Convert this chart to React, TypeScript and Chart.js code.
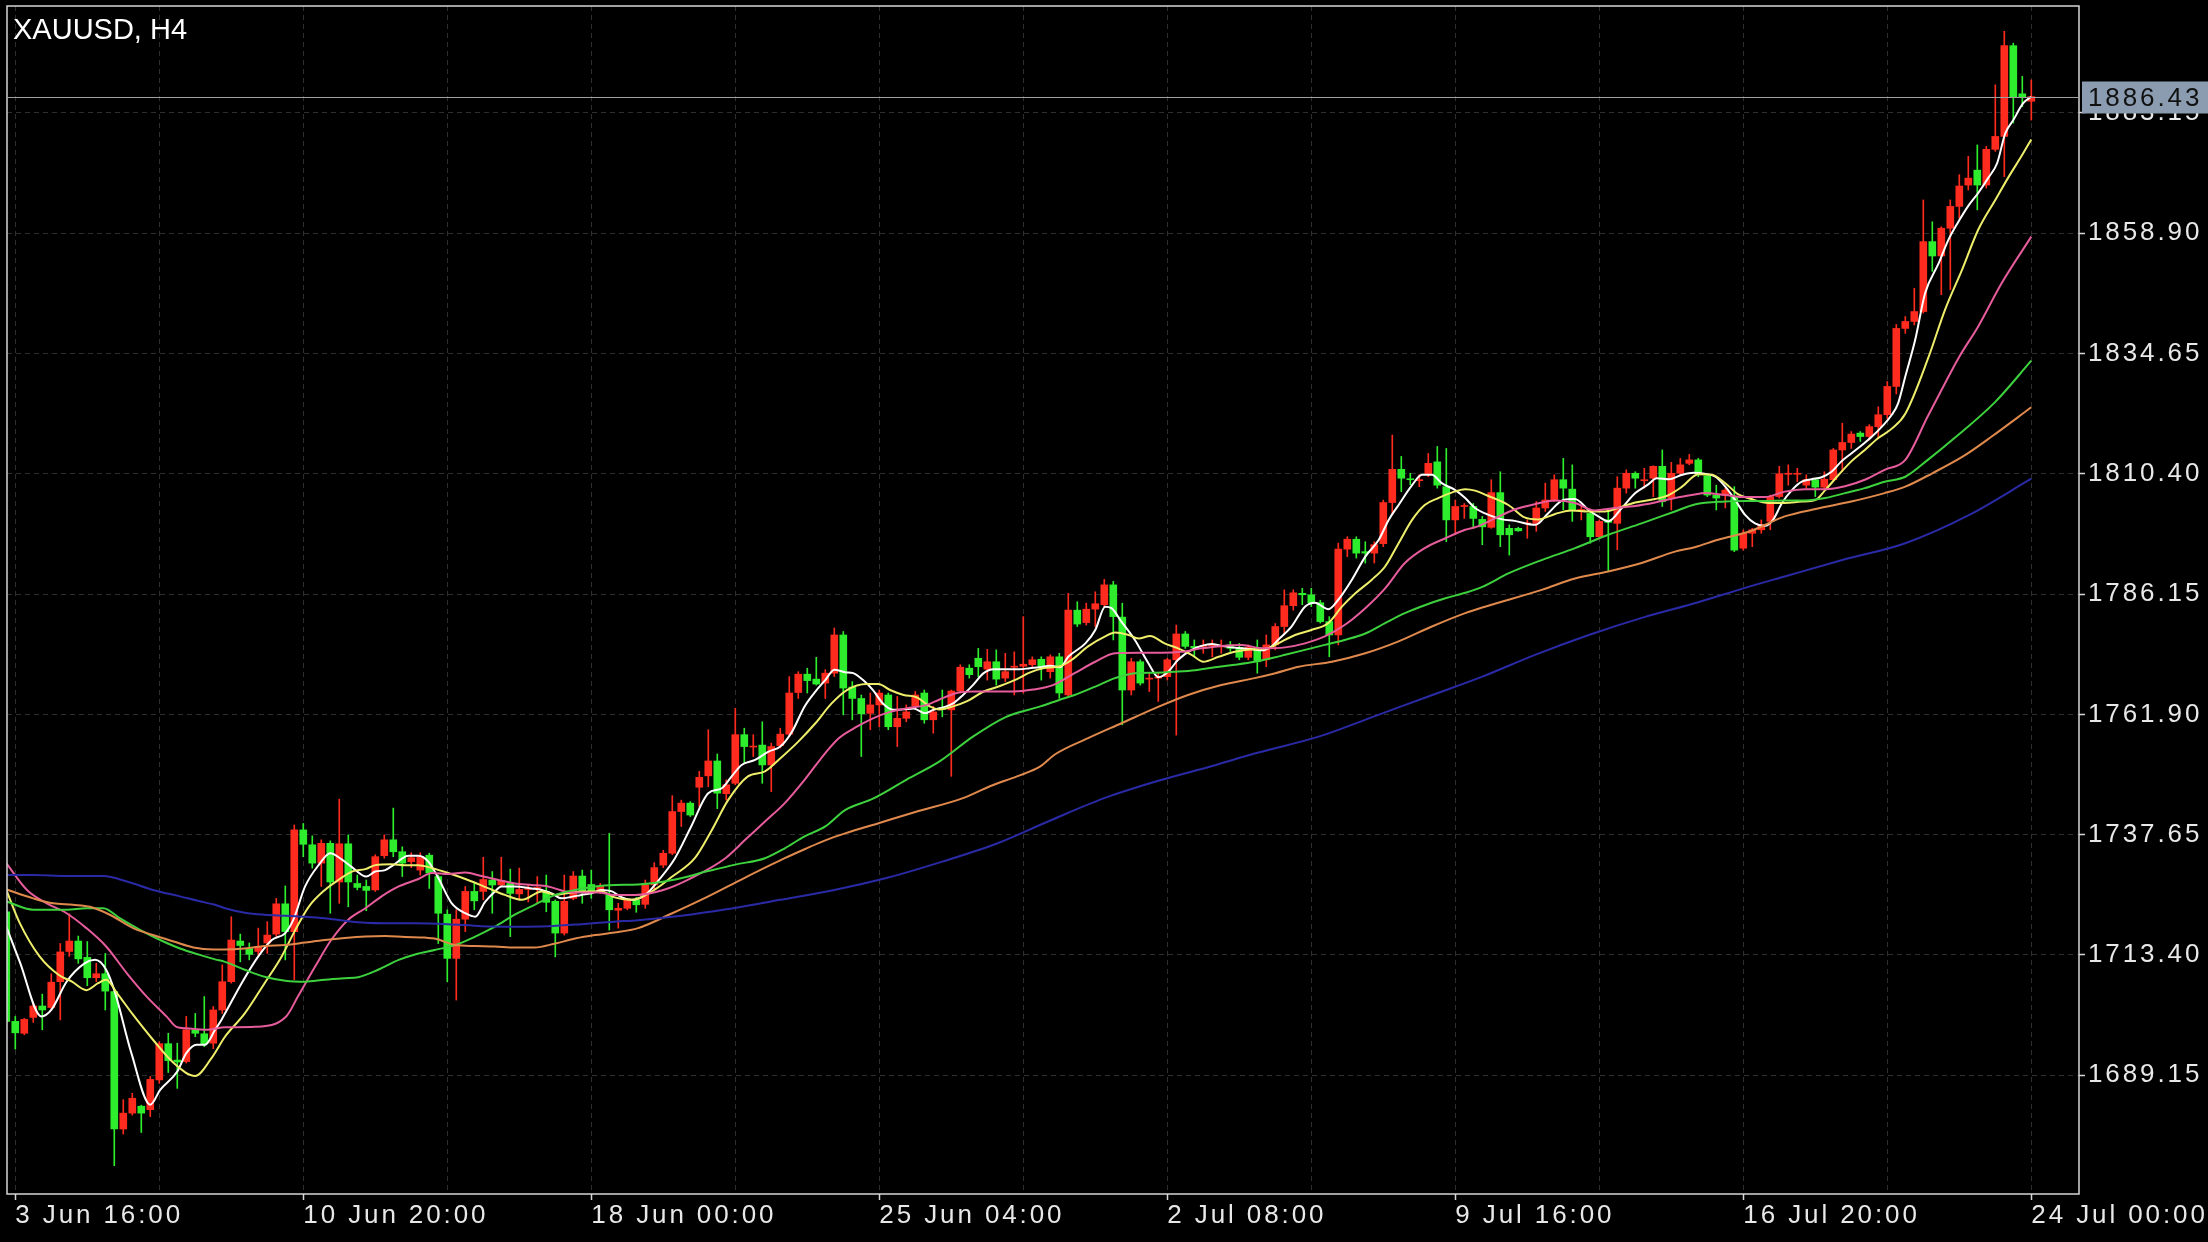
import React, { useEffect, useRef } from 'react';
import { Chart, registerables } from 'chart.js';

Chart.register(...registerables);

// ---------- data (H4 bars, index 0 = 3 Jun 12:00) ----------
const OPEN = [
  1722.1, 1700.0, 1697.6, 1700.8, 1703.1, 1702.8, 1708.0, 1714.1, 1716.2, 1712.9,
  1708.8, 1709.6, 1706.0, 1678.3, 1681.5, 1682.9, 1682.2, 1688.2, 1695.5, 1692.2,
  1691.9, 1698.3, 1697.5, 1695.6, 1702.3, 1708.0, 1716.2, 1714.7, 1714.1, 1715.8,
  1717.6, 1723.7, 1718.1, 1738.6, 1735.6, 1731.9, 1735.9, 1728.1, 1735.8, 1727.8,
  1727.2, 1726.5, 1733.4, 1736.6, 1734.2, 1732.2, 1730.5, 1733.5, 1729.2, 1721.6,
  1712.7, 1720.6, 1726.2, 1726.2, 1728.5, 1727.5, 1727.8, 1725.7, 1726.6, 1726.8,
  1726.2, 1724.2, 1717.8, 1724.8, 1729.3, 1727.6, 1726.2, 1725.5, 1722.4, 1722.8,
  1724.5, 1723.6, 1727.5, 1731.5, 1733.9, 1742.3, 1744.0, 1747.2, 1749.5, 1752.5,
  1745.9, 1748.0, 1757.8, 1755.3, 1755.7, 1751.7, 1755.6, 1757.9, 1766.3, 1770.0,
  1769.0, 1768.2, 1770.2, 1777.9, 1767.4, 1765.1, 1762.1, 1763.8, 1765.8, 1759.4,
  1761.1, 1763.5, 1766.2, 1760.8, 1763.2, 1762.8, 1766.6, 1771.2, 1773.2, 1771.0,
  1772.5, 1769.2, 1771.4, 1771.6, 1771.9, 1773.0, 1770.5, 1773.5, 1765.8, 1782.9,
  1780.4, 1783.1, 1784.0, 1788.0, 1781.5, 1766.8, 1772.5, 1769.0, 1769.2, 1769.5,
  1772.9, 1778.1, 1775.6, 1775.6, 1775.7, 1775.5, 1775.9, 1775.4, 1773.4, 1775.4,
  1772.9, 1775.9, 1779.6, 1783.8, 1786.3, 1786.0, 1784.4, 1780.6, 1777.9, 1795.2,
  1797.2, 1794.7, 1794.4, 1796.3, 1804.6, 1811.3, 1809.4, 1809.0, 1810.2, 1812.8,
  1807.8, 1801.1, 1803.8, 1803.8, 1801.2, 1799.6, 1806.6, 1799.4, 1799.4, 1800.3,
  1800.4, 1803.5, 1805.1, 1809.2, 1807.3, 1803.0, 1802.4, 1797.7, 1801.1, 1800.4,
  1807.5, 1810.5, 1809.0, 1809.5, 1811.9, 1805.5, 1810.5, 1812.5, 1813.2, 1810.0,
  1806.1, 1806.1, 1805.8, 1795.4, 1798.4, 1799.1, 1800.8, 1805.8, 1810.3, 1810.3,
  1808.1, 1809.2, 1807.7, 1809.2, 1815.2, 1816.7, 1818.6, 1817.9, 1819.9, 1822.3,
  1828.0, 1839.7, 1841.1, 1843.1, 1857.2, 1854.3, 1859.9, 1864.3, 1868.6, 1871.6,
  1868.6, 1875.8, 1878.4, 1896.7, 1887.0, 1885.5,
];
const HIGH = [
  1722.5, 1701.0, 1700.6, 1703.7, 1705.5, 1709.6, 1715.7, 1721.7, 1717.2, 1716.1,
  1711.7, 1713.7, 1706.1, 1684.2, 1685.5, 1683.1, 1688.9, 1695.9, 1697.6, 1695.6,
  1701.0, 1701.6, 1705.0, 1703.0, 1711.4, 1721.1, 1717.6, 1715.8, 1718.8, 1720.1,
  1724.8, 1727.3, 1739.6, 1739.9, 1737.4, 1736.6, 1736.4, 1744.8, 1737.6, 1729.5,
  1728.5, 1733.6, 1737.6, 1743.0, 1735.2, 1734.0, 1734.0, 1733.9, 1729.5, 1722.5,
  1722.5, 1727.2, 1727.8, 1733.1, 1730.2, 1733.1, 1730.7, 1730.9, 1727.5, 1729.2,
  1729.5, 1724.5, 1729.5, 1730.2, 1730.5, 1730.5, 1727.8, 1737.9, 1723.8, 1724.8,
  1725.0, 1728.5, 1732.0, 1734.5, 1745.5, 1744.6, 1744.3, 1750.4, 1758.8, 1753.9,
  1748.7, 1763.1, 1759.1, 1757.8, 1760.4, 1756.1, 1759.1, 1769.5, 1770.5, 1771.2,
  1773.4, 1770.9, 1779.3, 1778.6, 1768.5, 1765.8, 1766.2, 1766.8, 1766.2, 1765.5,
  1763.8, 1766.5, 1766.8, 1763.5, 1766.8, 1766.8, 1771.9, 1771.9, 1775.2, 1775.0,
  1774.9, 1774.2, 1774.5, 1781.6, 1773.5, 1773.5, 1773.9, 1774.2, 1786.3, 1784.6,
  1784.3, 1786.6, 1789.1, 1788.7, 1784.3, 1773.2, 1772.9, 1770.2, 1770.2, 1773.2,
  1779.9, 1778.6, 1776.9, 1776.9, 1776.9, 1776.9, 1776.6, 1776.2, 1775.9, 1776.9,
  1777.9, 1780.2, 1787.0, 1787.0, 1787.3, 1787.3, 1784.9, 1781.6, 1796.4, 1797.7,
  1797.7, 1796.7, 1796.7, 1805.1, 1818.2, 1813.9, 1810.5, 1810.2, 1814.5, 1815.9,
  1815.5, 1805.1, 1804.4, 1804.4, 1801.8, 1809.2, 1810.8, 1800.1, 1799.6, 1801.1,
  1804.8, 1808.5, 1810.2, 1813.5, 1812.2, 1803.8, 1803.1, 1801.1, 1803.1, 1809.8,
  1811.2, 1810.8, 1811.5, 1812.0, 1815.2, 1812.7, 1813.5, 1814.3, 1813.5, 1810.4,
  1808.1, 1807.5, 1807.8, 1799.1, 1799.4, 1801.1, 1806.1, 1811.9, 1812.2, 1811.5,
  1810.2, 1809.5, 1810.8, 1815.5, 1820.6, 1818.9, 1818.9, 1820.3, 1823.9, 1829.0,
  1840.5, 1842.1, 1847.8, 1865.6, 1861.2, 1860.2, 1865.6, 1870.7, 1874.4, 1876.7,
  1876.4, 1888.8, 1899.6, 1897.2, 1890.5, 1889.8,
];
const LOW = [
  1699.5, 1694.4, 1697.3, 1699.8, 1698.3, 1702.4, 1700.3, 1713.1, 1711.7, 1707.2,
  1708.0, 1702.3, 1670.9, 1677.3, 1681.1, 1677.6, 1680.8, 1687.5, 1689.7, 1686.5,
  1691.6, 1696.9, 1694.9, 1694.5, 1701.6, 1707.7, 1712.0, 1712.4, 1713.4, 1713.7,
  1717.1, 1712.4, 1708.4, 1733.2, 1730.9, 1727.2, 1721.8, 1723.8, 1723.1, 1726.5,
  1722.3, 1726.2, 1732.9, 1733.2, 1729.2, 1731.0, 1729.5, 1726.8, 1715.7, 1708.0,
  1704.3, 1718.1, 1722.5, 1724.5, 1721.8, 1727.2, 1717.1, 1724.5, 1724.1, 1723.8,
  1722.1, 1713.0, 1717.4, 1724.5, 1723.8, 1724.8, 1725.8, 1718.4, 1718.8, 1722.5,
  1722.0, 1722.8, 1726.5, 1731.0, 1733.6, 1739.3, 1741.3, 1743.3, 1747.3, 1742.9,
  1744.6, 1747.7, 1752.0, 1753.4, 1748.0, 1746.3, 1755.1, 1757.4, 1765.1, 1766.2,
  1767.8, 1765.1, 1769.5, 1761.8, 1760.8, 1753.4, 1758.8, 1759.4, 1758.8, 1755.4,
  1760.4, 1763.1, 1760.1, 1758.1, 1761.4, 1749.4, 1766.2, 1769.2, 1769.5, 1768.8,
  1767.8, 1768.5, 1765.8, 1766.2, 1771.5, 1768.8, 1769.2, 1765.1, 1765.5, 1779.6,
  1779.9, 1779.6, 1783.6, 1776.9, 1759.8, 1765.8, 1767.8, 1766.5, 1764.5, 1768.8,
  1757.7, 1775.2, 1773.5, 1774.2, 1773.5, 1774.2, 1774.6, 1772.9, 1772.9, 1770.2,
  1771.5, 1774.9, 1778.2, 1782.9, 1784.0, 1783.6, 1780.3, 1773.5, 1775.9, 1793.7,
  1793.4, 1792.4, 1792.4, 1795.7, 1802.1, 1806.8, 1808.2, 1807.8, 1809.8, 1807.5,
  1796.7, 1798.1, 1801.4, 1799.4, 1796.1, 1799.4, 1795.7, 1794.0, 1798.8, 1797.4,
  1798.8, 1802.8, 1804.8, 1803.1, 1800.8, 1801.1, 1796.4, 1797.4, 1790.7, 1795.1,
  1806.5, 1807.5, 1807.5, 1805.8, 1803.8, 1803.1, 1810.2, 1812.2, 1809.8, 1805.8,
  1803.1, 1803.5, 1794.7, 1795.0, 1795.7, 1798.4, 1799.1, 1805.5, 1808.1, 1808.8,
  1807.5, 1805.8, 1807.1, 1808.8, 1810.8, 1815.5, 1816.9, 1817.2, 1817.6, 1821.5,
  1826.5, 1838.7, 1840.4, 1842.8, 1851.2, 1846.5, 1847.5, 1861.9, 1867.6, 1863.6,
  1868.0, 1875.4, 1870.3, 1881.1, 1884.4, 1881.7,
];
const CLOSE = [
  1700.0, 1697.7, 1700.4, 1703.1, 1702.3, 1707.9, 1714.0, 1716.2, 1712.6, 1708.8,
  1709.6, 1706.1, 1678.3, 1681.5, 1684.5, 1681.5, 1688.3, 1695.5, 1692.1, 1691.8,
  1698.3, 1697.6, 1695.5, 1702.3, 1708.0, 1716.4, 1715.3, 1713.5, 1715.1, 1717.4,
  1723.7, 1718.1, 1738.6, 1735.7, 1731.9, 1735.9, 1728.1, 1735.8, 1728.1, 1727.0,
  1726.4, 1733.2, 1736.6, 1734.2, 1731.9, 1733.0, 1733.2, 1729.9, 1721.8, 1712.7,
  1720.6, 1726.2, 1724.3, 1728.6, 1727.5, 1728.4, 1725.8, 1726.6, 1726.8, 1726.9,
  1724.0, 1717.8, 1724.2, 1729.3, 1726.2, 1726.2, 1727.2, 1722.5, 1722.8, 1724.5,
  1723.5, 1727.5, 1731.0, 1733.9, 1742.3, 1744.0, 1741.6, 1749.2, 1752.5, 1746.0,
  1747.7, 1757.8, 1755.4, 1755.4, 1751.7, 1755.4, 1757.9, 1766.2, 1770.0, 1768.7,
  1768.0, 1770.2, 1777.9, 1767.2, 1765.1, 1762.0, 1763.8, 1766.2, 1759.4, 1761.1,
  1762.4, 1765.8, 1760.8, 1762.4, 1762.9, 1766.6, 1771.4, 1769.9, 1771.5, 1772.5,
  1769.0, 1770.5, 1771.5, 1772.0, 1772.9, 1771.5, 1773.5, 1766.2, 1782.9, 1780.1,
  1783.1, 1784.2, 1788.0, 1781.6, 1766.8, 1772.5, 1768.2, 1769.2, 1769.3, 1772.9,
  1778.1, 1775.6, 1775.3, 1775.8, 1775.9, 1775.7, 1775.2, 1773.4, 1775.4, 1772.5,
  1775.9, 1779.6, 1783.8, 1786.4, 1786.0, 1784.4, 1780.6, 1777.9, 1795.2, 1797.2,
  1794.4, 1794.4, 1796.1, 1804.6, 1811.3, 1809.5, 1809.2, 1809.2, 1812.5, 1808.1,
  1801.1, 1803.8, 1803.9, 1801.4, 1799.7, 1806.6, 1798.1, 1798.1, 1798.9, 1800.5,
  1803.5, 1805.1, 1809.2, 1807.5, 1803.1, 1803.2, 1797.7, 1800.8, 1800.6, 1807.5,
  1810.5, 1809.5, 1809.2, 1811.9, 1804.8, 1810.5, 1812.2, 1813.2, 1810.4, 1806.1,
  1805.5, 1807.1, 1795.0, 1798.4, 1799.1, 1800.1, 1805.8, 1810.4, 1810.4, 1810.4,
  1809.2, 1807.7, 1809.3, 1815.2, 1816.7, 1818.4, 1817.9, 1819.9, 1822.3, 1828.0,
  1839.7, 1841.1, 1843.1, 1857.2, 1854.3, 1859.9, 1864.3, 1868.4, 1870.0, 1868.6,
  1875.8, 1878.4, 1896.7, 1886.3, 1886.4, 1886.43,
];

// moving averages: [bar index, price]
const MA_WHITE = [
  [0, 1719.1], [1.5, 1712], [3.9, 1701.0], [5.0, 1702.3], [6.7, 1708.0], [8.7, 1711.7], [9.85, 1712.4],
  [11.1, 1710.4], [12.1, 1705.7], [13.9, 1693.6], [16.0, 1683.2], [17.1, 1686.2], [19.0, 1689.9],
  [20.0, 1693.6], [21.15, 1695.3], [22.1, 1695.3], [23.2, 1698.3], [23.9, 1700.3], [26.15, 1707.7],
  [28.0, 1713.1], [29.5, 1716.4], [31.0, 1717.8], [31.9, 1720.5], [33.2, 1727.2], [34.7, 1731.5],
  [36.0, 1733.9], [37.3, 1732.6], [38.4, 1731.1], [40.0, 1729.2], [41.0, 1730.2], [42.1, 1730.5],
  [43.0, 1731.5], [44.7, 1733.4], [45.8, 1733.4], [46.9, 1732.2], [48.0, 1728.9], [49.5, 1723.8],
  [51.0, 1721.8], [52.1, 1721.1], [53.2, 1724.1], [54.3, 1726.2], [55.0, 1727.2], [56.5, 1727.2],
  [58.4, 1726.8], [59.5, 1726.5], [60.6, 1725.8], [61.7, 1724.8], [62.8, 1725.1], [63.9, 1725.5],
  [65.0, 1725.8], [66.1, 1726.5], [67.3, 1726.2], [68.4, 1725.0], [69.5, 1724.5], [71, 1725.5],
  [72.5, 1728.5], [74.3, 1732.9], [76.1, 1739.3], [78.0, 1746.0], [79.5, 1747.0], [80.6, 1749.4],
  [81.7, 1751.7], [83.2, 1752.7], [84.7, 1754.4], [86.0, 1755.4], [87.3, 1758.4], [88.7, 1763.5],
  [89.9, 1766.5], [91.0, 1768.8], [92.0, 1770.9], [93.2, 1770.4], [94.1, 1770.2], [95.2, 1768.8],
  [96.3, 1766.8], [97.4, 1764.1], [98.6, 1762.8], [99.7, 1762.9], [100.8, 1763.1], [102.1, 1762.1],
  [103.0, 1762.8], [104.1, 1763.3], [105.2, 1764.1], [106.3, 1765.8], [107.4, 1767.8], [108.6, 1770.2],
  [109.7, 1771.0], [111.1, 1771.0], [112.6, 1771.0], [113.7, 1771.2], [114.9, 1771.4], [116.0, 1771.7],
  [117.1, 1771.4], [118.0, 1773.5], [119.9, 1776.2], [121.0, 1778.9], [122.1, 1783.6], [122.8, 1783.3],
  [123.9, 1780.6], [125.4, 1776.9], [126.9, 1772.2], [128.0, 1769.4], [129.1, 1770.5], [130.2, 1772.9],
  [131.7, 1774.9], [132.8, 1775.7], [133.9, 1776.1], [135.0, 1775.7], [136.1, 1775.4], [137.3, 1775.2],
  [138.4, 1775.0], [139.5, 1774.8], [140.6, 1775.6], [141.3, 1776.9], [142.8, 1779.6], [144.3, 1783.6],
  [145.4, 1784.4], [146.9, 1783.1], [148.0, 1785.0], [149.5, 1789.0], [151.0, 1793.7], [152.5, 1797.1],
  [153.6, 1801.1], [154.7, 1804.1], [156.2, 1808.1], [157.3, 1810.2], [158.4, 1810.2], [159.5, 1808.5],
  [161.0, 1807.1], [162.1, 1805.5], [163.2, 1803.5], [164.7, 1802.1], [166.2, 1801.2], [167.6, 1800.9],
  [169.9, 1800.1], [171.3, 1802.4], [173.0, 1805.1], [174.3, 1805.3], [175.8, 1803.1], [176.9, 1801.8],
  [178.0, 1800.8], [179.5, 1803.5], [181.0, 1806.5], [182.4, 1808.2], [183.4, 1809.5], [184.7, 1809.3],
  [186.2, 1810.2], [187.5, 1810.6], [188.7, 1810.4], [189.9, 1809.8], [191.0, 1807.8], [192.1, 1805.1],
  [193.2, 1802.1], [194.3, 1800.4], [195.4, 1799.9], [196.3, 1801.1], [197.3, 1804.5], [198.4, 1807.1],
  [199.5, 1808.8], [200.6, 1809.3], [201.7, 1809.7], [202.8, 1810.8], [203.9, 1812.9], [205.0, 1814.5],
  [206.2, 1816.2], [207.3, 1817.9], [208.4, 1819.9], [209.5, 1822.3], [210.2, 1824.6], [211.0, 1830.0],
  [212.1, 1837.4], [213.2, 1846.8], [214.7, 1852.8], [215.8, 1857.6], [216.9, 1861.2], [218.0, 1864.4],
  [219.1, 1867.0], [220.2, 1870.0], [221.2, 1873.0], [222.1, 1879.0], [223.0, 1881.7], [224.1, 1885.1],
  [225.0, 1886.4],
];
const MA_YELLOW = [
  [0, 1726.5], [1.5, 1719.8], [3.7, 1713.1], [5.8, 1709.4], [7.3, 1708.0], [8.9, 1706.3], [10.2, 1707.7],
  [11.1, 1708.4], [12.3, 1705.7], [14.1, 1701.3], [16.3, 1696.3], [18.6, 1691.6], [21.0, 1689.0],
  [22.8, 1692.6], [24.3, 1696.9], [26.5, 1701.6], [28.7, 1707.7], [30.6, 1713.1], [32.1, 1718.4],
  [33.6, 1723.1], [35.4, 1726.5], [36.9, 1728.5], [38.4, 1730.2], [39.9, 1730.7], [41.0, 1731.5],
  [42.8, 1731.7], [44.3, 1731.5], [45.8, 1731.5], [47.3, 1730.9], [49.1, 1729.9], [51.3, 1728.5],
  [53.6, 1726.8], [55.4, 1725.5], [57.3, 1724.5], [59.5, 1726.2], [61.0, 1725.5], [62.8, 1726.0],
  [64.7, 1726.2], [66.1, 1726.2], [67.6, 1725.0], [69.5, 1724.5], [72, 1726.5], [74, 1729.2],
  [76.5, 1732.9], [78.4, 1738.6], [80.2, 1744.6], [82.4, 1749.4], [84.3, 1750.4], [85.8, 1752.7],
  [88.0, 1756.4], [89.9, 1760.1], [91.7, 1764.1], [93.4, 1766.8], [95.6, 1768.0], [96.9, 1768.0],
  [98.2, 1766.8], [99.7, 1765.8], [101.2, 1765.3], [102.6, 1763.5], [103.7, 1762.9], [105.2, 1763.5],
  [106.7, 1764.5], [108.6, 1766.5], [110.4, 1767.6], [112.3, 1769.0], [113.7, 1770.3], [115.2, 1771.2],
  [117.1, 1771.6], [118.4, 1772.9], [120.2, 1775.6], [122.1, 1777.6], [123.2, 1778.4], [124.7, 1777.9],
  [125.8, 1777.2], [127.1, 1777.7], [128.7, 1776.2], [130.2, 1775.2], [131.7, 1773.9], [133.0, 1772.5],
  [134.7, 1773.5], [136.5, 1774.5], [138.4, 1775.0], [140.2, 1775.2], [141.3, 1776.2], [143.2, 1777.9],
  [145.0, 1778.9], [146.9, 1780.3], [148.4, 1783.6], [149.9, 1786.3], [151.7, 1789.0], [153.2, 1791.7],
  [154.7, 1796.4], [156.2, 1801.1], [157.6, 1804.1], [159.1, 1805.5], [160.6, 1806.6], [162.1, 1807.3],
  [163.2, 1807.0], [164.3, 1806.2], [166.9, 1804.1], [168.7, 1801.6], [170.2, 1801.2], [172.1, 1802.3],
  [173.9, 1803.0], [175.8, 1802.8], [177.6, 1802.8], [179.1, 1803.5], [181.0, 1804.6], [183.2, 1805.3],
  [184.7, 1806.1], [186.2, 1807.8], [188.0, 1810.3], [189.5, 1810.2], [191.0, 1808.5], [192.4, 1806.3],
  [193.9, 1805.3], [195.8, 1804.5], [197.6, 1804.5], [199.5, 1804.8], [201.0, 1805.1], [202.1, 1807.1],
  [203.6, 1810.2], [205.0, 1812.9], [206.5, 1815.2], [208.0, 1817.6], [209.5, 1819.5], [211.0, 1822.5],
  [213.6, 1834.0], [215.4, 1843.4], [217.3, 1851.5], [219.1, 1859.6], [221.0, 1865.6], [222.5, 1870.3],
  [224.0, 1874.7], [225.0, 1877.8],
];
const MA_PINK = [
  [0, 1731.9], [2.3, 1726.5], [4.5, 1723.8], [6.7, 1721.8], [8.9, 1718.8], [11.1, 1715.1], [13.4, 1709.7],
  [15.6, 1705.0], [17.8, 1701.0], [18.9, 1698.9], [20.0, 1698.6], [22.3, 1698.3], [24.3, 1698.8],
  [27.6, 1698.9], [31.1, 1701.0], [32.4, 1705.0], [34.3, 1711.0], [36.1, 1716.4], [38.0, 1720.5],
  [39.9, 1722.8], [41.7, 1725.2], [43.6, 1727.2], [45.8, 1728.7], [47.3, 1729.9], [49.1, 1729.7],
  [51.0, 1730.0], [52.8, 1729.3], [54.7, 1728.5], [56.5, 1727.8], [58.4, 1727.5], [60.2, 1727.2],
  [62.1, 1726.2], [63.9, 1726.0], [65.8, 1726.0], [67.6, 1725.5], [69.9, 1725.5], [73, 1726.5],
  [76, 1728.8], [79.9, 1732.9], [82.1, 1736.6], [84.3, 1740.3], [86.5, 1744.0], [88.7, 1748.7],
  [91.0, 1754.1], [92.5, 1757.1], [94.5, 1759.4], [96.3, 1761.1], [98.2, 1762.4], [100.0, 1763.1],
  [102.3, 1763.8], [103.7, 1764.9], [105.6, 1766.2], [107.4, 1766.5], [109.7, 1766.5], [111.9, 1766.5],
  [114.1, 1766.9], [116.3, 1767.8], [118.7, 1770.2], [121.0, 1772.5], [123.2, 1774.2], [125.8, 1774.3],
  [128.4, 1774.3], [130.6, 1774.5], [132.8, 1775.2], [135.0, 1775.7], [137.3, 1775.9], [139.5, 1775.2],
  [142.1, 1775.4], [144.3, 1776.2], [146.5, 1777.6], [148.7, 1779.9], [151.0, 1783.3], [153.2, 1787.3],
  [155.4, 1792.4], [157.6, 1795.4], [159.9, 1797.4], [162.1, 1799.1], [163.5, 1799.8], [165.4, 1801.4],
  [167.6, 1803.2], [169.9, 1804.3], [172.1, 1805.0], [174.3, 1804.5], [176.5, 1803.0], [178.7, 1803.5],
  [181.0, 1803.9], [183.2, 1804.6], [185.4, 1805.5], [187.6, 1806.2], [188.7, 1806.5], [191.0, 1806.1],
  [193.2, 1805.7], [195.4, 1805.7], [197.6, 1806.8], [199.9, 1807.3], [202.1, 1807.3], [204.3, 1807.9],
  [206.5, 1809.2], [208.7, 1811.2], [211.0, 1813.2], [213.5, 1822.0], [215.4, 1828.6], [217.0, 1834.0],
  [219.1, 1840.1], [221.7, 1848.8], [225.0, 1858.2],
];
const MA_GREEN = [
  [0, 1724.2], [3.0, 1722.5], [6.7, 1722.5], [8.9, 1722.8], [10.8, 1722.8], [12.6, 1720.8], [14.9, 1718.4],
  [17.1, 1716.4], [19.3, 1714.7], [21.5, 1713.4], [23.2, 1712.5], [24.3, 1712.0], [26.5, 1710.4],
  [28.7, 1709.0], [31.0, 1708.2], [33.2, 1708.0], [35.4, 1708.4], [37.6, 1708.7], [39.1, 1708.9],
  [41.3, 1710.4], [43.6, 1712.4], [45.6, 1713.6], [47.6, 1714.4], [49.9, 1715.4], [52.1, 1717.1],
  [54.3, 1719.1], [56.5, 1721.5], [58.7, 1723.5], [61.0, 1725.5], [63.2, 1726.5], [65.4, 1727.2],
  [67.6, 1727.5], [70.2, 1727.6], [74, 1728.5], [78, 1730.3], [81, 1731.6], [84.3, 1732.9],
  [86.5, 1734.9], [88.7, 1737.3], [91.0, 1739.3], [93.2, 1742.6], [96.3, 1744.9], [100.0, 1748.7],
  [103.7, 1752.4], [107.4, 1757.4], [111.1, 1761.4], [114.9, 1763.5], [117.0, 1764.8], [118.7, 1765.8],
  [121.0, 1767.5], [123.2, 1769.2], [125.4, 1770.2], [127.6, 1770.3], [129.9, 1770.5], [132.1, 1770.8],
  [134.3, 1771.4], [136.5, 1771.9], [138.7, 1772.5], [141.0, 1773.4], [142.1, 1773.9], [144.3, 1774.9],
  [146.5, 1775.9], [148.7, 1776.9], [151.0, 1778.2], [153.2, 1780.3], [155.4, 1782.3], [157.6, 1783.9],
  [159.9, 1785.3], [162.1, 1786.4], [164.0, 1787.6], [166.9, 1790.3], [170.6, 1793.0], [174.3, 1795.4],
  [178.0, 1798.1], [181.7, 1800.4], [185.4, 1802.8], [187.6, 1804.2], [191.0, 1804.8], [193.2, 1804.9],
  [195.4, 1804.9], [197.6, 1805.0], [199.9, 1805.0], [202.1, 1805.5], [204.3, 1806.5], [206.5, 1807.5],
  [208.7, 1808.8], [211.0, 1809.8], [213.5, 1813.2], [216.2, 1817.2], [221.0, 1824.9], [225.0, 1833.2],
];
const MA_ORANGE = [
  [0, 1726.6], [3.0, 1724.8], [5.2, 1723.8], [7.4, 1723.5], [9.3, 1723.1], [11.5, 1721.5], [14.1, 1718.8],
  [16.3, 1717.4], [18.6, 1716.1], [20.8, 1714.9], [23.0, 1714.5], [24.3, 1714.5], [26.5, 1714.7],
  [28.7, 1715.2], [31.0, 1715.4], [33.2, 1715.9], [35.4, 1716.4], [37.6, 1716.8], [39.9, 1717.1],
  [42.1, 1717.2], [44.3, 1717.0], [46.5, 1716.9], [47.6, 1716.7], [49.9, 1715.4], [52.1, 1715.2],
  [54.3, 1715.1], [56.5, 1714.9], [58.7, 1714.9], [61.0, 1715.7], [63.2, 1716.7], [65.4, 1717.4],
  [67.6, 1717.9], [70.2, 1718.8], [74, 1721.8], [78, 1725.2], [82, 1728.9], [86.5, 1732.9],
  [88.7, 1734.7], [91.0, 1736.5], [93.2, 1737.9], [97, 1740.0], [101, 1742.2], [106.3, 1745.0],
  [109.3, 1747.4], [112.3, 1749.4], [114.9, 1751.4], [116.5, 1753.8], [120.2, 1757.1], [123.9, 1760.1],
  [127.6, 1763.1], [131.3, 1765.8], [135.0, 1767.8], [138.7, 1769.2], [141.0, 1770.2], [143.6, 1771.5],
  [147.3, 1772.5], [151.0, 1774.2], [154.7, 1776.6], [158.4, 1779.6], [162.1, 1782.3], [164.3, 1783.6],
  [170.6, 1787.0], [174.3, 1789.3], [178.0, 1790.7], [181.7, 1792.4], [185.4, 1794.7], [187.6, 1795.6],
  [190.2, 1797.1], [193.9, 1798.9], [197.6, 1801.8], [201.3, 1803.4], [205.0, 1804.8], [208.7, 1806.5],
  [211.0, 1807.8], [214.0, 1810.5], [217.5, 1814.0], [220.6, 1817.9], [225.0, 1823.8],
];
const MA_BLUE = [
  [0, 1729.5], [3, 1729.5], [6.7, 1729.3], [10.8, 1729.3], [13.4, 1728.2], [16.3, 1726.5], [19.3, 1725.2],
  [21.5, 1724.2], [23.2, 1723.5], [24.3, 1722.8], [26.5, 1721.9], [28.7, 1721.5], [31.0, 1721.3],
  [33.2, 1721.1], [35.4, 1720.8], [37.6, 1720.3], [39.9, 1719.9], [42.1, 1719.8], [45.4, 1719.8],
  [49.1, 1719.6], [52.8, 1719.2], [56.5, 1719.1], [60.2, 1719.2], [63.9, 1719.6], [67.6, 1720.1],
  [70.2, 1720.4], [75, 1721.3], [80, 1722.6], [86, 1724.5], [92, 1726.5], [98, 1729.0], [104, 1732.2],
  [110, 1735.8], [116, 1740.5], [122, 1745.0], [128, 1748.5], [134, 1751.5], [138.7, 1754.0],
  [146, 1757.5], [152, 1761.5], [158, 1765.5], [164, 1769.5], [170, 1774.0], [176, 1778.0],
  [182, 1781.5], [188, 1784.5], [193, 1787.3], [197.6, 1789.7], [204, 1793.0], [211, 1796.4],
  [218, 1802.0], [225, 1809.4],
];

const TIME_LABELS = ['3 Jun 16:00', '10 Jun 20:00', '18 Jun 00:00', '25 Jun 04:00', '2 Jul 08:00', '9 Jul 16:00', '16 Jul 20:00', '24 Jul 00:00'];
const LABEL_BARS = [1, 33, 65, 97, 129, 161, 193, 225];
const GRID_BARS = [1, 17, 33, 49, 65, 81, 97, 113, 129, 145, 161, 177, 193, 209, 225];
const PRICE_TICKS = [1689.15, 1713.40, 1737.65, 1761.90, 1786.15, 1810.40, 1834.65, 1858.90, 1883.15];
const LAST_PRICE = 1886.43;
const SYMBOL_TITLE = 'XAUUSD, H4';

// ---------- styling ----------
const W = 2208;
const H = 1242;
const FONT = '"Liberation Sans", Arial, Helvetica, sans-serif';
const TRACKING = '2.9px';
const UP = '#ff2b1e';
const DOWN = '#2ded2d';
const GRID = '#2e2e2e';
const AXIS = '#d6d6d6';
const TEXT = '#e8e8e8';

const candleColors = OPEN.map((o, i) => (CLOSE[i] >= o ? UP : DOWN));

const lineDs = (pts: number[][], color: string) => ({
  type: 'line' as const,
  data: pts.map(([x, y]) => ({ x, y })),
  borderColor: color,
  borderWidth: 2,
  pointRadius: 0,
  cubicInterpolationMode: 'monotone' as const,
  fill: false,
  order: 0,
});

const chrome = {
  id: 'mtChrome',
  beforeDraw(chart: any) {
    const ctx = chart.ctx;
    ctx.save();
    ctx.fillStyle = '#000';
    ctx.fillRect(0, 0, chart.width, chart.height);
    ctx.restore();
    ctx.letterSpacing = TRACKING;
  },
  afterDraw(chart: any) {
    const ctx = chart.ctx;
    const a = chart.chartArea;
    const ys = chart.scales.y;
    ctx.save();
    ctx.letterSpacing = '0px';
    // frame
    ctx.strokeStyle = AXIS;
    ctx.lineWidth = 1.5;
    ctx.strokeRect(a.left, a.top, a.right - a.left, a.bottom - a.top);
    // last price line
    const py = Math.round(ys.getPixelForValue(LAST_PRICE)) + 0.5;
    ctx.strokeStyle = '#a0a0a0';
    ctx.lineWidth = 1;
    ctx.beginPath();
    ctx.moveTo(a.left, py);
    ctx.lineTo(a.right, py);
    ctx.stroke();
    // price box
    ctx.fillStyle = '#8b9cb1';
    ctx.fillRect(a.right + 3, py - 16, W - a.right - 3, 32);
    ctx.letterSpacing = TRACKING;
    ctx.fillStyle = '#111';
    ctx.font = `26px ${FONT}`;
    ctx.textBaseline = 'middle';
    ctx.textAlign = 'left';
    ctx.fillText(LAST_PRICE.toFixed(2), a.right + 9, py + 1);
    // title
    ctx.letterSpacing = '0px';
    ctx.fillStyle = '#ffffff';
    ctx.font = `29px ${FONT}`;
    ctx.textBaseline = 'alphabetic';
    ctx.fillText(SYMBOL_TITLE, 13, 39);
    ctx.restore();
    ctx.letterSpacing = '0px';
  },
};

export default function App() {
  const ref = useRef<HTMLCanvasElement | null>(null);

  useEffect(() => {
    if (!ref.current) return;
    const chart = new Chart(ref.current, {
      type: 'bar',
      data: {
        datasets: [
          lineDs(MA_BLUE, '#2a2aa6'),
          lineDs(MA_ORANGE, '#e0894c'),
          lineDs(MA_GREEN, '#3dd13d'),
          lineDs(MA_PINK, '#e65c9c'),
          lineDs(MA_YELLOW, '#eeee6a'),
          lineDs(MA_WHITE, '#ffffff'),
          {
            type: 'bar',
            data: OPEN.map((o, i) => ({ x: i, y: [o, CLOSE[i]] })),
            backgroundColor: candleColors,
            barThickness: 7,
            minBarLength: 1,
            grouped: false,
            borderWidth: 0,
            order: 1,
          } as any,
          {
            type: 'bar',
            data: LOW.map((l, i) => ({ x: i, y: [l, HIGH[i]] })),
            backgroundColor: candleColors,
            barThickness: 1,
            minBarLength: 1,
            grouped: false,
            borderWidth: 0,
            order: 2,
          } as any,
        ],
      },
      options: {
        responsive: false,
        animation: false,
        devicePixelRatio: 1,
        layout: { padding: { left: 7, top: 6, right: 0, bottom: 0 } },
        plugins: { legend: { display: false }, tooltip: { enabled: false } },
        events: [],
        scales: {
          x: {
            type: 'linear',
            min: 0.08,
            max: 230.3,
            offset: false,
            afterBuildTicks: (s: any) => {
              s.ticks = GRID_BARS.map((v) => ({ value: v }));
            },
            afterFit: (s: any) => {
              s.height = 48;
              s.paddingLeft = 0;
              s.paddingRight = 0;
              s.paddingTop = 0;
              s.paddingBottom = 0;
            },
            grid: {
              color: GRID,
              lineWidth: 1,
              offset: false,
              drawTicks: true,
              tickLength: 6,
              tickWidth: 1.5,
              tickColor: (c: any) => (c.tick && LABEL_BARS.includes(c.tick.value) ? AXIS : 'rgba(0,0,0,0)'),
            },
            border: { display: false, dash: [5, 4] },
            ticks: {
              autoSkip: false,
              maxRotation: 0,
              minRotation: 0,
              align: 'start',
              color: TEXT,
              padding: 0,
              font: { family: FONT, size: 26 },
              callback: (v: any) => {
                const k = LABEL_BARS.indexOf(Number(v));
                return k >= 0 ? TIME_LABELS[k] : '';
              },
            },
          },
          y: {
            type: 'linear',
            position: 'right',
            min: 1665.2,
            max: 1904.7,
            afterBuildTicks: (s: any) => {
              s.ticks = PRICE_TICKS.map((v) => ({ value: v }));
            },
            afterFit: (s: any) => {
              s.width = 129;
              s.paddingTop = 0;
              s.paddingBottom = 0;
              s.paddingLeft = 0;
              s.paddingRight = 0;
            },
            grid: { color: GRID, lineWidth: 1, tickLength: 6, tickWidth: 1.5, tickColor: AXIS },
            border: { display: false, dash: [5, 4] },
            ticks: {
              color: TEXT,
              padding: 3,
              font: { family: FONT, size: 26 },
              callback: (v: any) => Number(v).toFixed(2),
            },
          },
        },
      } as any,
      plugins: [chrome],
    });
    return () => chart.destroy();
  }, []);

  return (
    <div style={{ position: 'fixed', left: 0, top: 0, width: W, height: H, background: '#000', overflow: 'hidden' }}>
      <canvas ref={ref} width={W} height={H} style={{ display: 'block', width: W, height: H }} />
    </div>
  );
}
